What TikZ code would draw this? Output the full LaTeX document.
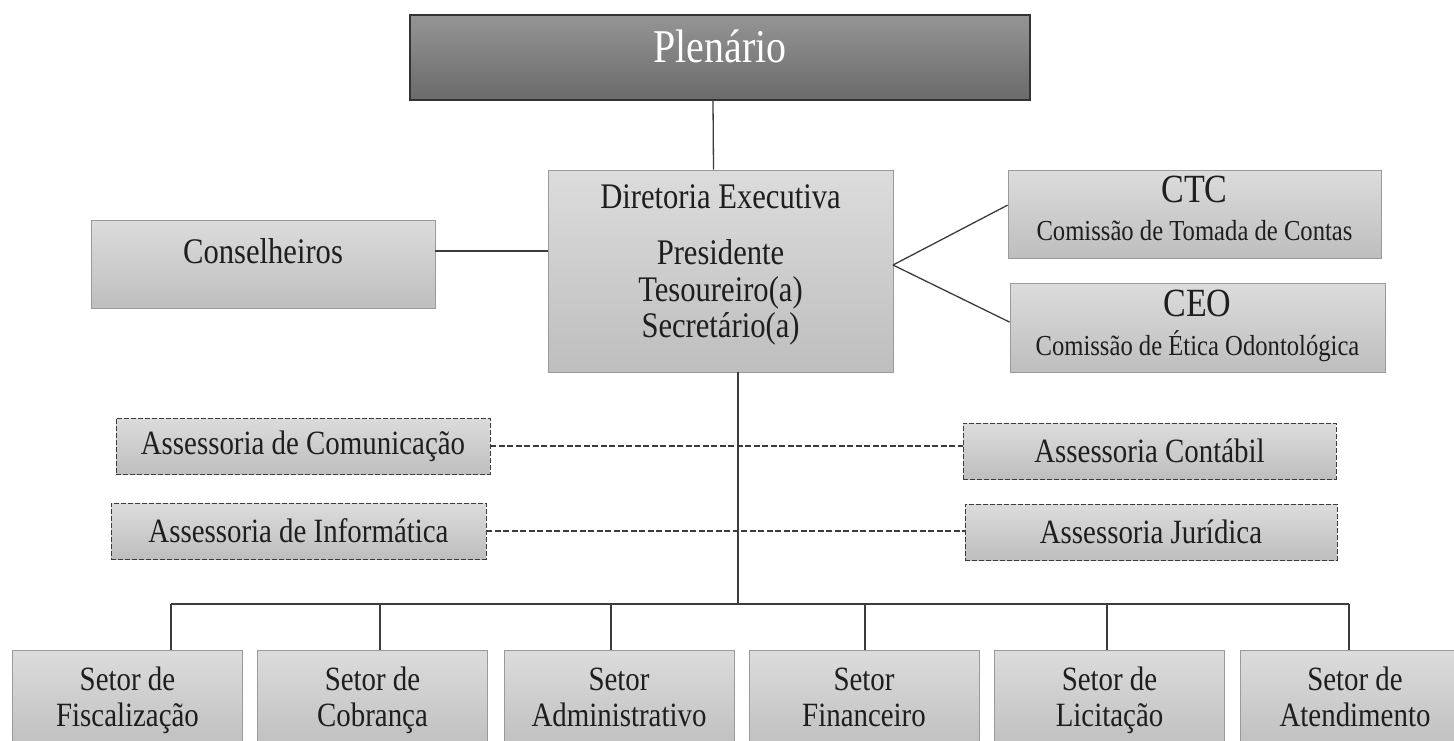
\documentclass[tikz,border=0pt]{standalone}
\usepackage{fontspec}
\setmainfont{Liberation Serif}[FakeStretch=0.85]
\usetikzlibrary{calc}
\definecolor{boxtop}{HTML}{DCDCDC}
\definecolor{boxbot}{HTML}{BEBEBE}
\definecolor{boxline}{HTML}{9A9A9A}
\definecolor{pltop}{HTML}{959595}
\definecolor{plbot}{HTML}{6A6A6A}
\definecolor{linec}{HTML}{3C3C3C}
\definecolor{txt}{HTML}{1E1E1E}
\begin{document}
\begin{tikzpicture}[x=1pt,y=-1pt,
  gbox/.style={rectangle, draw=boxline, line width=0.8pt, top color=boxtop, bottom color=boxbot, inner sep=0pt, text=txt, align=center},
  dbox/.style={gbox, draw=linec, dash pattern=on 5pt off 2pt},
  conn/.style={draw=linec, line width=1.3pt},
  dconn/.style={conn, dash pattern=on 6pt off 2.5pt},
  lbl/.style={text=txt, align=center, inner sep=0pt},
  big/.style={font=\fontsize{36}{36.5}\selectfont},
  asf/.style={font=\fontsize{34}{36}\selectfont},
  sub/.style={font=\fontsize{29}{30}\selectfont},
  sbox/.style={gbox, minimum width=230, minimum height=102, font=\fontsize{34}{36}\selectfont}
]
\clip (0,0) rectangle (1454,740);
\fill[white] (0,0) rectangle (1454,740);

% Plenario
\node[gbox, top color=pltop, bottom color=plbot, draw=black!80, line width=1.2pt, minimum width=620, minimum height=85] (pl) at (720,57.5) {};
\node[lbl, text=white, font=\fontsize{47}{50}\selectfont] (plt) at (720,46) {Plenário};

% Diretoria
\node[gbox, minimum width=345, minimum height=202] (dir) at (720.5,271) {};
\node[lbl, big] (dirt) at (720.5,265) {Diretoria Executiva\\[20pt]Presidente\\Tesoureiro(a)\\Secretário(a)};

% Conselheiros
\node[gbox, minimum width=344, minimum height=88] (cons) at (263,264) {};
\node[lbl, big] (const) at (263,251) {Conselheiros};

% CTC / CEO
\node[gbox, minimum width=373, minimum height=88] (ctc) at (1194.5,214) {};
\node[lbl, font=\fontsize{40}{42}\selectfont] (ctct) at (1194.5,189) {CTC};
\node[lbl, sub] (ctcs) at (1194.5,231) {Comissão de Tomada de Contas};
\node[gbox, minimum width=375, minimum height=89] (ceo) at (1197.5,327.5) {};
\node[lbl, font=\fontsize{40}{42}\selectfont] (ceot) at (1197.5,303) {CEO};
\node[lbl, sub] (ceos) at (1197.5,346) {Comissão de Ética Odontológica};

% Assessorias
\node[dbox, asf, minimum width=374, minimum height=56] (com) at (303,446) {Assessoria de Comunicação};
\node[dbox, asf, minimum width=375, minimum height=56] (inf) at (298.5,531) {Assessoria de Informática};
\node[dbox, asf, minimum width=373, minimum height=56] (cont) at (1149.5,451) {Assessoria Contábil};
\node[dbox, asf, minimum width=372, minimum height=56] (jur) at (1151,532) {Assessoria Jurídica};

% Setores
\node[sbox] (s1) at (127.5,701) {Setor de\strut\\Fiscalização\strut};
\node[sbox] (s2) at (372.5,701) {Setor de\strut\\Cobrança\strut};
\node[sbox] (s3) at (619,701) {Setor\strut\\Administrativo\strut};
\node[sbox] (s4) at (864,701) {Setor\strut\\Financeiro\strut};
\node[sbox] (s5) at (1109.5,701) {Setor de\strut\\Licitação\strut};
\node[sbox] (s6) at (1355,701) {Setor de\strut\\Atendimento\strut};

% coordinates
\coordinate (fan) at (893,265);
\coordinate (busc) at (738,604);
\coordinate (d1) at (171,604);
\coordinate (d2) at (380,604);
\coordinate (d3) at (611,604);
\coordinate (d4) at (865,604);
\coordinate (d5) at (1107,604);
\coordinate (d6) at (1349,604);

% connectors
\draw[conn] ($(pl.south)+(-7,0)$) -- ($(dir.north)+(-7,0)$);
\draw[conn] (cons.east |- const) -- (dir.west |- const);
\draw[conn] (fan) -- ($(ctc.north west)!0.4!(ctc.south west)$);
\draw[conn] (fan) -- ($(ceo.north west)!0.44!(ceo.south west)$);
\draw[dconn] (com.east) -- (com.east -| cont.west);
\draw[dconn] (inf.east) -- (inf.east -| jur.west);
\draw[conn] (busc |- dir.south) -- (busc);
\draw[conn] (d1) -- (d6);
\draw[conn] (d1) -- (d1 |- s1.north);
\draw[conn] (d2) -- (d2 |- s2.north);
\draw[conn] (d3) -- (d3 |- s3.north);
\draw[conn] (d4) -- (d4 |- s4.north);
\draw[conn] (d5) -- (d5 |- s5.north);
\draw[conn] (d6) -- (d6 |- s6.north);
\end{tikzpicture}
\end{document}
